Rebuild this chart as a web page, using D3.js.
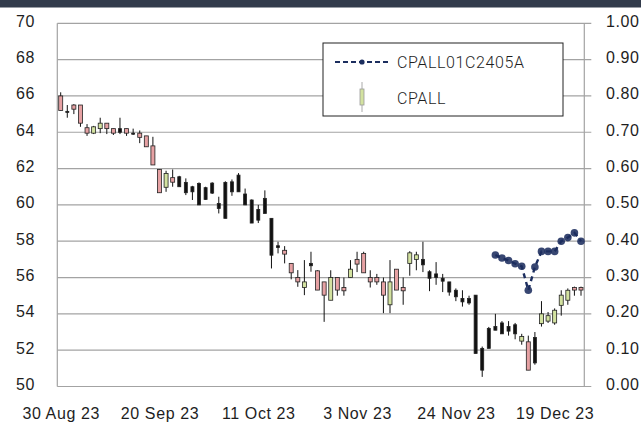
<!DOCTYPE html>
<html>
<head>
<meta charset="utf-8">
<script src="https://cdn.jsdelivr.net/npm/d3@7"></script>
<style>
  body { margin: 0; background: #fff; }
  svg { display: block; font-family: Roboto, "Liberation Sans", sans-serif; }
  .lbl { font-size: 16px; font-weight: 300; fill: #1e1e1e; letter-spacing: 0.6px; }
</style>
</head>
<body>
<svg id="chart"></svg>
<script>
// trading days shown on the chart
var dates = [
  '2023-08-30','2023-08-31','2023-09-01','2023-09-04','2023-09-05','2023-09-06','2023-09-07','2023-09-08',
  '2023-09-11','2023-09-12','2023-09-13','2023-09-14','2023-09-15','2023-09-18','2023-09-19','2023-09-20',
  '2023-09-21','2023-09-22','2023-09-25','2023-09-26','2023-09-27','2023-09-28','2023-09-29','2023-10-02',
  '2023-10-03','2023-10-04','2023-10-05','2023-10-06','2023-10-09','2023-10-10','2023-10-11','2023-10-12',
  '2023-10-16','2023-10-17','2023-10-18','2023-10-19','2023-10-20','2023-10-24','2023-10-25','2023-10-26',
  '2023-10-27','2023-10-30','2023-10-31','2023-11-01','2023-11-02','2023-11-03','2023-11-06','2023-11-07',
  '2023-11-08','2023-11-09','2023-11-10','2023-11-13','2023-11-14','2023-11-15','2023-11-16','2023-11-17',
  '2023-11-20','2023-11-21','2023-11-22','2023-11-23','2023-11-24','2023-11-27','2023-11-28','2023-11-29',
  '2023-11-30','2023-12-01','2023-12-04','2023-12-06','2023-12-07','2023-12-08','2023-12-12','2023-12-13',
  '2023-12-14','2023-12-15','2023-12-18','2023-12-19','2023-12-20','2023-12-21','2023-12-22','2023-12-25'
];

// CPALL daily candles
var open = [66.0,65.15,65.5,65.5,64.25,63.95,64.2,64.5,64.2,64.2,64.2,63.95,63.95,63.8,63.25,61.95,60.97,61.5,61.55,61.24,
  61.0,61.18,60.95,61.2,60.08,61.24,61.27,61.64,60.6,60.27,59.75,60.36,59.26,57.75,57.5,56.78,56.0,55.45,56.78,56.37,
  55.76,54.75,56.0,55.45,56.0,57.0,57.33,56.0,56.0,55.76,54.5,56.46,55.45,56.78,57.0,57.0,56.32,56.2,55.96,55.76,
  55.3,54.85,54.85,55.03,52.1,52.1,53.3,53.5,53.3,53.4,52.5,52.46,51.3,53.46,53.6,53.5,54.47,54.75,55.45,55.45];
var high = [66.2,65.5,65.55,65.5,64.45,64.35,64.8,64.5,64.2,64.8,64.2,64.2,64.1,63.8,63.75,61.95,61.88,61.95,61.6,61.46,
  61.05,61.24,61.0,61.25,60.45,61.3,61.4,61.75,60.9,60.3,60.0,60.8,59.26,57.97,57.73,56.78,56.41,56.96,57.42,56.4,
  55.76,56.4,56.0,56.0,56.96,57.42,57.42,56.4,56.2,56.0,56.96,56.46,56.0,57.45,57.42,57.97,56.4,56.85,56.2,55.76,
  55.4,55.3,55.0,55.03,52.2,53.28,54.0,53.6,53.6,53.5,52.9,52.8,53.0,54.7,54.1,54.3,55.3,55.4,55.5,55.5];
var low = [65.2,64.8,65.0,64.3,63.8,63.9,63.95,63.9,63.85,63.9,63.8,63.85,63.4,63.2,62.2,60.67,60.72,61.0,61.0,60.54,
  60.27,59.99,60.27,60.6,59.53,59.26,60.5,60.72,59.99,59.0,59.0,59.53,56.5,57.33,56.78,55.9,55.49,55.03,56.32,55.31,
  53.56,54.75,55.0,55.0,56.0,56.3,56.26,55.45,55.6,54.04,54.04,55.31,54.5,56.1,56.4,56.3,55.25,55.6,55.2,55.0,
  54.7,54.4,54.5,51.82,50.53,52.1,53.1,52.9,52.8,52.6,52.3,50.9,51.2,53.3,53.5,53.4,53.9,54.5,55.0,55.0];
var close = [65.2,65.1,65.27,64.5,63.95,64.3,64.5,64.2,63.95,64.0,63.95,63.9,63.72,63.2,62.2,60.67,61.73,61.25,61.0,60.67,
  60.72,60.0,60.3,60.65,59.8,59.26,60.72,60.72,60.0,59.0,59.16,59.53,57.23,57.65,57.29,56.26,55.76,55.76,56.65,55.31,
  55.03,56.0,55.31,55.27,56.46,56.74,56.26,55.76,55.76,55.03,55.76,55.31,55.27,57.36,57.25,56.7,55.96,56.0,55.8,55.2,
  54.94,54.66,54.6,51.82,50.9,53.2,53.1,52.9,53.05,52.9,52.75,50.9,52.7,54.0,53.9,54.2,55.03,55.3,55.31,55.31];
// candles the reference draws as plain black bars (1 = black)
var plain = [0,1,0,0,0,0,0,0,0,1,0,1,0,0,0,0,0,0,1,1,
  1,1,1,1,1,1,1,1,1,1,1,1,1,1,0,0,0,0,1,0,
  0,0,0,0,0,0,0,0,0,0,0,0,0,0,0,1,1,1,1,1,
  1,1,1,1,1,1,1,1,1,1,0,0,1,0,0,0,0,0,0,0];

// CPALL01C2405A (right axis)
var dwDates = ['2023-12-04','2023-12-06','2023-12-07','2023-12-08','2023-12-12','2023-12-13','2023-12-14',
  '2023-12-15','2023-12-18','2023-12-19','2023-12-20','2023-12-21','2023-12-22','2023-12-25'];
var dwValues = [0.362,0.354,0.347,0.338,0.331,0.265,0.329,0.372,0.372,0.372,0.40,0.41,0.423,0.40];

var leftTicks = [50,52,54,56,58,60,62,64,66,68,70];
var rightTicks = [0,0.1,0.2,0.3,0.4,0.5,0.6,0.7,0.8,0.9,1.0];
var xTickDates = ['2023-08-30','2023-09-20','2023-10-11','2023-11-03','2023-11-24','2023-12-19'];

var W = 641, H = 423;
var plotL = 57.3, plotR = 584.3, plotT = 23.3, plotB = 386.5;

var svg = d3.select("#chart").attr("width", W).attr("height", H);

// dark strip on top
svg.append("rect").attr("x", 0).attr("y", 0).attr("width", W).attr("height", 7.5).attr("fill", "#323b4b");

var x = d3.scalePoint().domain(dates).range([60.7, 581]);
var y = d3.scaleLinear().domain([50, 70]).range([plotB, plotT]);
var yR = d3.scaleLinear().domain([0, 1]).range([plotB, plotT]);

// grid lines (run a little past the right border as ticks)
svg.append("g")
  .selectAll("line")
  .data(leftTicks)
  .enter().append("line")
  .attr("x1", plotL).attr("x2", plotR + 7)
  .attr("y1", function (d) { return y(d); })
  .attr("y2", function (d) { return y(d); })
  .attr("stroke", "#a3a3a3").attr("stroke-width", 1.2);

// left and right frame lines
[plotL, plotR].forEach(function (px) {
  svg.append("line").attr("x1", px).attr("x2", px).attr("y1", plotT).attr("y2", plotB)
    .attr("stroke", "#a3a3a3").attr("stroke-width", 1.2);
});

// left axis labels
var gl = svg.append("g").attr("transform", "translate(35,0)")
  .call(d3.axisLeft(y).tickValues(leftTicks).tickSize(0).tickPadding(0));
gl.select(".domain").remove();
gl.selectAll("text").attr("class", "lbl").attr("font-family", null).attr("font-size", null)
  .attr("dy", null).attr("y", 3).attr("x", 0);

// right axis labels
var gr = svg.append("g").attr("transform", "translate(606,0)")
  .call(d3.axisRight(yR).tickValues(rightTicks).tickSize(0).tickPadding(0).tickFormat(d3.format(".2f")));
gr.select(".domain").remove();
gr.selectAll("text").attr("class", "lbl").attr("font-family", null).attr("font-size", null)
  .attr("dy", null).attr("y", 3).attr("x", 0);

// bottom axis labels
var fmt = d3.timeFormat("%-d %b %y");
var parse = d3.timeParse("%Y-%m-%d");
var gx = svg.append("g").attr("transform", "translate(0,419)")
  .call(d3.axisBottom(x).tickValues(xTickDates).tickSize(0).tickPadding(0)
    .tickFormat(function (d) { return fmt(parse(d)); }));
gx.select(".domain").remove();
gx.selectAll("text").attr("class", "lbl").attr("font-family", null).attr("font-size", null)
  .attr("dy", null).attr("y", 0);

// candles
var candles = dates.map(function (d, i) {
  return { date: d, o: open[i], h: high[i], l: low[i], c: close[i], plain: plain[i] };
});

var cg = svg.append("g");
cg.selectAll(".wick")
  .data(candles)
  .enter().append("line")
  .attr("class", "wick")
  .attr("x1", function (d) { return x(d.date); })
  .attr("x2", function (d) { return x(d.date); })
  .attr("y1", function (d) { return y(d.h); })
  .attr("y2", function (d) { return y(d.l); })
  .attr("stroke", "#111").attr("stroke-width", 1);

cg.selectAll(".body")
  .data(candles)
  .enter().append("rect")
  .attr("class", "body")
  .attr("x", function (d) { return x(d.date) - (d.plain ? 1.5 : 2); })
  .attr("width", function (d) { return d.plain ? 3 : 4; })
  .attr("y", function (d) { return y(Math.max(d.o, d.c)); })
  .attr("height", function (d) { return Math.max(1, Math.abs(y(d.o) - y(d.c))); })
  .attr("fill", function (d) {
    if (d.plain) return "#111";
    return d.c >= d.o ? "#d3e2a0" : "#e6a1a3";
  })
  .attr("stroke", "#222").attr("stroke-width", 0.8);

// CPALL01C2405A dashed line + dots
var dw = dwDates.map(function (d, i) { return [d, dwValues[i]]; });
var line = d3.line()
  .x(function (d) { return x(d[0]); })
  .y(function (d) { return yR(d[1]); });

svg.append("path")
  .datum(dw)
  .attr("d", line)
  .attr("fill", "none")
  .attr("stroke", "#1c2e5f")
  .attr("stroke-width", 2.4)
  .attr("stroke-dasharray", "5,4");

svg.selectAll(".dot")
  .data(dw)
  .enter().append("circle")
  .attr("class", "dot")
  .attr("cx", function (d) { return x(d[0]); })
  .attr("cy", function (d) { return yR(d[1]); })
  .attr("r", 3.8)
  .attr("fill", "#1c2e5f")
  .attr("opacity", 0.88);

// legend
var lg = svg.append("g");
lg.append("rect").attr("x", 323).attr("y", 43).attr("width", 240).attr("height", 73)
  .attr("fill", "#fff").attr("stroke", "#222").attr("stroke-width", 1);
lg.append("line").attr("x1", 335).attr("x2", 388).attr("y1", 62).attr("y2", 62)
  .attr("stroke", "#1c2e5f").attr("stroke-width", 2).attr("stroke-dasharray", "5,3");
lg.append("circle").attr("cx", 362).attr("cy", 62).attr("r", 2.6).attr("fill", "#1c2e5f");
lg.append("text").attr("class", "lbl").attr("x", 397).attr("y", 68).text("CPALL01C2405A");
lg.append("line").attr("x1", 362).attr("x2", 362).attr("y1", 82).attr("y2", 112)
  .attr("stroke", "#aaa").attr("stroke-width", 1);
lg.append("rect").attr("x", 360).attr("y", 89).attr("width", 4).attr("height", 16)
  .attr("fill", "#d3e2a0").attr("stroke", "#999").attr("stroke-width", 0.8);
lg.append("text").attr("class", "lbl").attr("x", 397).attr("y", 104).text("CPALL");
</script>
</body>
</html>
